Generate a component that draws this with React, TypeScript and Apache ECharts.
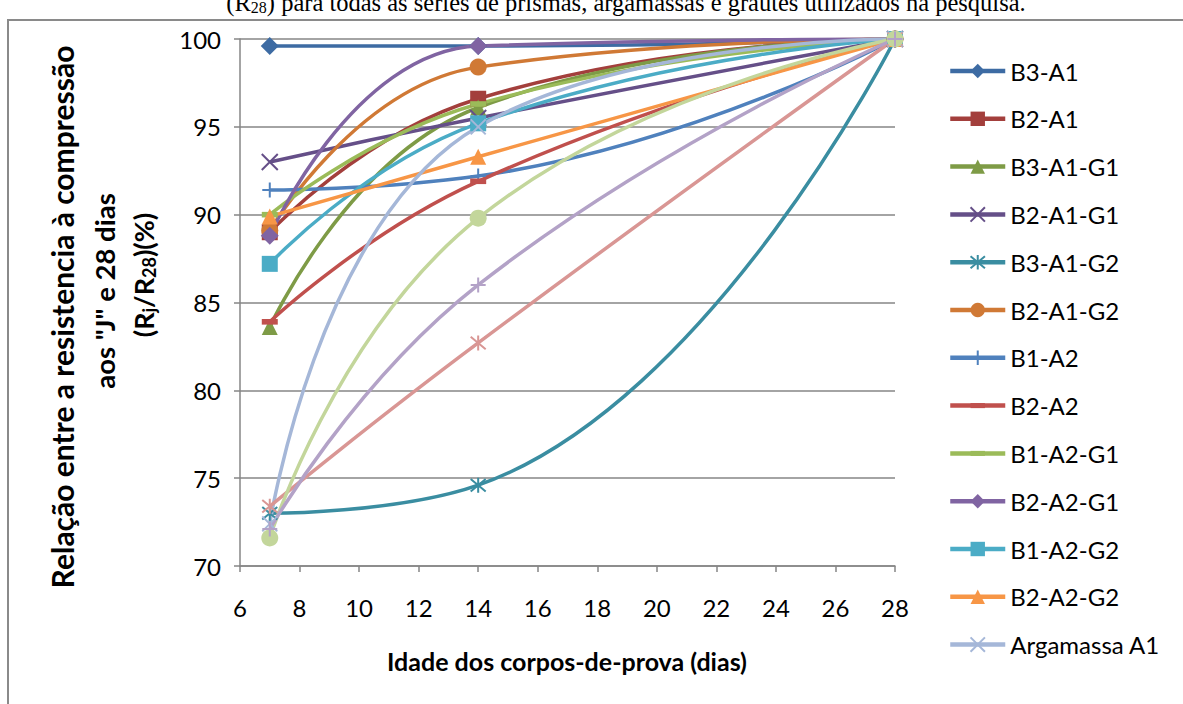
import React, { useEffect, useRef } from "react";
import * as echarts from "echarts";

// ---- data ----
const ages = [7, 14, 28];
const xTicks = [6, 8, 10, 12, 14, 16, 18, 20, 22, 24, 26, 28];
const yTicks = [70, 75, 80, 85, 90, 95, 100];

const seriesNames = [
  "B3-A1", "B2-A1", "B3-A1-G1", "B2-A1-G1", "B3-A1-G2", "B2-A1-G2",
  "B1-A2", "B2-A2", "B1-A2-G1", "B2-A2-G1", "B1-A2-G2", "B2-A2-G2",
  "Argamassa A1", "Argamassa A2", "Graute G1", "Graute G2",
];
const legendNames = seriesNames.slice(0, 13);

const b3a1 = [99.6, 99.6, 100];
const b2a1 = [89.0, 96.6, 100];
const b3a1g1 = [83.6, 96.1, 100];
const b2a1g1 = [93.0, 95.5, 100];
const b3a1g2 = [73.0, 74.6, 100];
const b2a1g2 = [89.1, 98.4, 100];
const b1a2 = [91.4, 92.2, 100];
const b2a2 = [83.9, 91.9, 100];
const b1a2g1 = [90.0, 96.3, 100];
const b2a2g1 = [88.8, 99.6, 100];
const b1a2g2 = [87.2, 95.2, 100];
const b2a2g2 = [89.9, 93.3, 100];
const argA1 = [72.4, 95.0, 100];
const argA2 = [73.4, 82.7, 100];
const grG1 = [71.6, 89.8, 100];
const grG2 = [72.1, 86.0, 100];

const seriesValues = [
  b3a1, b2a1, b3a1g1, b2a1g1, b3a1g2, b2a1g2,
  b1a2, b2a2, b1a2g1, b2a2g1, b1a2g2, b2a2g2,
  argA1, argA2, grG1, grG2,
];

const colors = [
  "#3D6BA3", "#A33F3C", "#7E9B46", "#654F88", "#3A8DA1", "#D07935",
  "#4F81BD", "#C0504D", "#9BBB59", "#8064A2", "#4BACC6", "#F79646",
  "#A5B7D8", "#D99694", "#C3D69B", "#B3A2C7",
];

const X = "path://M0,0L10,10M10,0L0,10";
const STAR = "path://M0,0L10,10M10,0L0,10M5,-1L5,11";
const PLUS = "path://M5,0L5,10M0,5L10,5";
const DASH = "path://M0,0L0,0M0,3.9L12,3.9L12,8.1L0,8.1ZM12,12L12,12";

const symbols = [
  "diamond", "rect", "triangle", X, STAR, "circle",
  PLUS, DASH, DASH, "diamond", "rect", "triangle",
  X, STAR, "circle", PLUS,
];
const symbolSizes = [18, 16, 16, 16, 15, 17, 15, 16, 16, 18, 16, 16, 15, 15, 17, 15];

const FONT = "Lato, 'Open Sans', sans-serif";

export default function App() {
  const ref = useRef<HTMLDivElement>(null);
  useEffect(() => {
    const chart = echarts.init(ref.current as HTMLDivElement, null, { renderer: "svg" });
    const series = seriesNames.map((name, i) => {
      const c = colors[i];
      const sym = symbols[i];
      const stroke = sym === X || sym === STAR || sym === PLUS;
      return {
        type: "line",
        name,
        data: ages.map((a, k) => [a, seriesValues[i][k]]),
        smooth: 0.5,
        symbol: sym,
        symbolSize: symbolSizes[i],
        showSymbol: true,
        lineStyle: { color: c, width: 3.5 },
        itemStyle: { color: c, borderColor: c, borderWidth: stroke ? 2 : 0 },
        emphasis: { disabled: true },
        clip: true,
      };
    });
    const option: any = {
      animation: false,
      backgroundColor: "#fff",
      grid: { left: 240, right: 288, top: 39, bottom: 138 },
      xAxis: {
        type: "value",
        min: 6,
        max: 28,
        interval: 2,
        axisLine: { show: true, lineStyle: { color: "#868686", width: 1.5 } },
        axisTick: { show: true, length: 6, lineStyle: { color: "#868686", width: 1.5 } },
        splitLine: { show: false },
        axisLabel: {
          margin: 29,
          color: "#000",
          fontFamily: FONT,
          fontSize: 24,
          formatter: (v: number) => (xTicks.includes(v) ? String(v) : ""),
        },
      },
      yAxis: {
        type: "value",
        min: 70,
        max: 100,
        interval: 5,
        axisLine: { show: true, lineStyle: { color: "#868686", width: 1.5 } },
        axisTick: { show: true, length: 6, lineStyle: { color: "#868686", width: 1.5 } },
        splitLine: { show: true, lineStyle: { color: "#868686", width: 1.5 } },
        axisLabel: {
          margin: 19,
          color: "#000",
          fontFamily: FONT,
          fontSize: 24,
          formatter: (v: number) => (yTicks.includes(v) ? String(v) : ""),
        },
      },
      legend: {
        data: legendNames,
        orient: "vertical",
        left: 948,
        top: 59,
        padding: 0,
        itemWidth: 55,
        itemHeight: 18,
        itemGap: 23.8,
        lineStyle: { width: 4.5 },
        textStyle: { fontFamily: FONT, fontSize: 24, color: "#000", lineHeight: 24 },
      },
      graphic: [
        {
          type: "rect",
          silent: true,
          shape: { x: 8, y: 20, width: 1200, height: 720 },
          style: { fill: "none", stroke: "#8a8a8a", lineWidth: 2 },
        },
        {
          type: "text",
          silent: true,
          x: 626,
          y: 2.5,
          style: {
            text: "(R{s|28}) para todas as séries de prismas, argamassas e grautes utilizados na pesquisa.",
            fontFamily: "'Liberation Serif', serif",
            fontSize: 24.5,
            fill: "#000",
            align: "center",
            verticalAlign: "middle",
            rich: { s: { fontFamily: "'Liberation Serif', serif", fontSize: 16, verticalAlign: "bottom" } },
          },
        },
        {
          type: "text",
          silent: true,
          x: 62,
          y: 317,
          rotation: Math.PI / 2,
          style: {
            text: "Relação entre a resistencia à compressão",
            fontFamily: FONT,
            fontWeight: "bold",
            fontSize: 30,
            fill: "#000",
            align: "center",
            verticalAlign: "middle",
          },
        },
        {
          type: "text",
          silent: true,
          x: 104,
          y: 291,
          rotation: Math.PI / 2,
          style: {
            text: 'aos "J" e 28 dias',
            fontFamily: FONT,
            fontWeight: "bold",
            fontSize: 27.5,
            fill: "#000",
            align: "center",
            verticalAlign: "middle",
          },
        },
        {
          type: "text",
          silent: true,
          x: 143,
          y: 275,
          rotation: Math.PI / 2,
          style: {
            text: "(R{s|j}/R{s|28})(%)",
            fontFamily: FONT,
            fontWeight: "bold",
            fontSize: 27,
            lineHeight: 30,
            fill: "#000",
            align: "center",
            verticalAlign: "middle",
            rich: {
              s: { fontFamily: FONT, fontWeight: "bold", fontSize: 18, lineHeight: 18, verticalAlign: "bottom" },
            },
          },
        },
        {
          type: "text",
          silent: true,
          x: 567,
          y: 661,
          style: {
            text: "Idade dos corpos-de-prova (dias)",
            fontFamily: FONT,
            fontWeight: "bold",
            fontSize: 25,
            fill: "#000",
            align: "center",
            verticalAlign: "middle",
          },
        },
      ],
      series,
    };
    chart.setOption(option);
    return () => chart.dispose();
  }, []);
  return (
    <div
      ref={ref}
      style={{ position: "absolute", left: 0, top: 0, width: 1183, height: 704, background: "#fff" }}
    />
  );
}
